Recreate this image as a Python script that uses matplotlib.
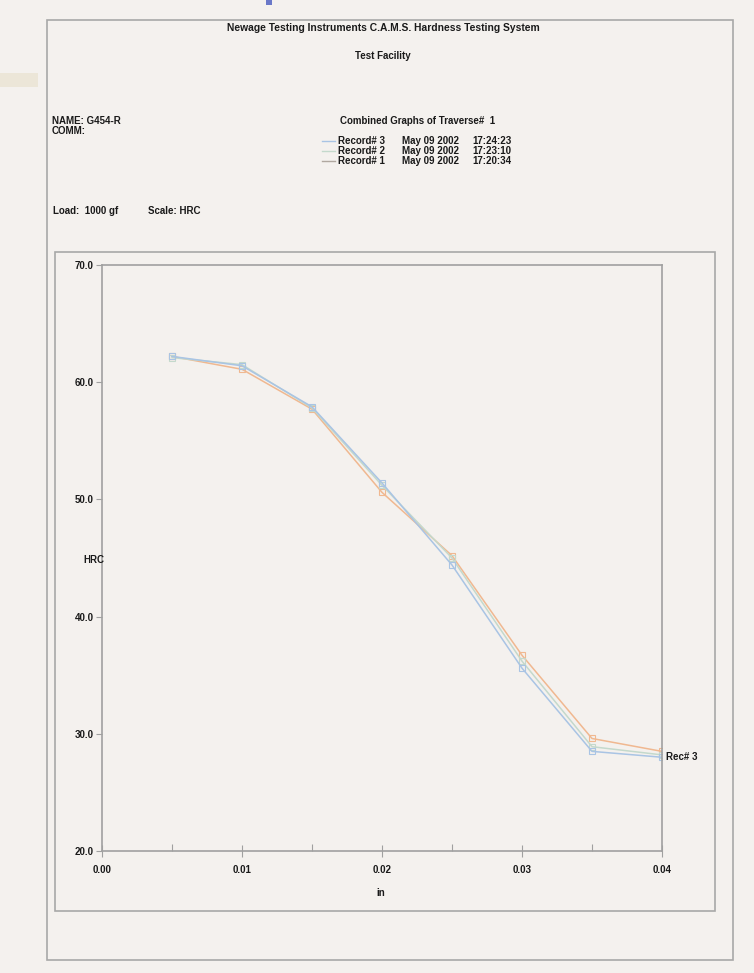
import matplotlib
matplotlib.use("Agg")
import matplotlib.pyplot as plt
from matplotlib.patches import Rectangle
from matplotlib.ticker import MultipleLocator, FormatStrFormatter
from matplotlib.lines import Line2D

# ---- data ----
depth_in = [0.005, 0.010, 0.015, 0.020, 0.025, 0.030, 0.035, 0.040]
rec3_hrc = [62.2, 61.4, 57.9, 51.4, 44.4, 35.6, 28.5, 28.0]
rec2_hrc = [62.1, 61.5, 57.8, 51.2, 45.0, 36.2, 28.9, 28.2]
rec1_hrc = [62.2, 61.1, 57.7, 50.6, 45.2, 36.7, 29.6, 28.5]
record_names = ["Record# 3", "Record# 2", "Record# 1"]
record_dates = ["May 09 2002", "May 09 2002", "May 09 2002"]
record_times = ["17:24:23", "17:23:10", "17:20:34"]
x_ticks = [0.00, 0.01, 0.02, 0.03, 0.04]
y_ticks = [20.0, 30.0, 40.0, 50.0, 60.0, 70.0]

W, H = 754, 973
BG = "#f4f1ee"
C3, C2, C1 = "#a9c4e4", "#c4d9cc", "#f0b890"

FONT = ["Liberation Sans Narrow", "Liberation Sans", "DejaVu Sans"]
plt.rcParams["font.family"] = FONT

fig = plt.figure(figsize=(W / 100, H / 100), dpi=100, facecolor=BG)


def fx(x):
    return x / W


def fy(y):
    return 1 - y / H


def txt(x, y, s, size=7, ha="left", weight="bold", **kw):
    fig.text(fx(x), fy(y), s, fontsize=size, ha=ha, va="center",
             fontweight=weight, color="#1a1a1a", **kw)


def box(x0, y0, x1, y1, lw=1.0, ec="#a8a8a8", fc="none", z=0):
    fig.add_artist(Rectangle((fx(x0), fy(y1)), fx(x1 - x0), (y1 - y0) / H,
                             transform=fig.transFigure, fill=fc != "none",
                             facecolor=fc, edgecolor=ec, lw=lw, zorder=z))


# decorative bits outside the page
box(0, 73, 38, 87, lw=0, ec="none", fc="#ece6d8")
box(266, 0, 272, 5, lw=0, ec="none", fc="#6a78c8")

# page and inner chart frames
box(47, 20, 733, 960, lw=1.2)
box(55, 252, 715, 911, lw=1.2)

# header texts
txt(383, 28, "Newage Testing Instruments C.A.M.S. Hardness Testing System", size=7.4, ha="center")
txt(383, 56, "Test Facility", ha="center")
txt(52, 121, "NAME: G454-R")
txt(52, 131, "COMM:")
txt(340, 121, "Combined Graphs of Traverse#  1")
for i, (n, d, t, c) in enumerate(zip(record_names, record_dates, record_times, [C3, C2, "#b0a8a0"])):
    yy = 141 + 10 * i
    fig.add_artist(Line2D([fx(322), fx(335)], [fy(yy), fy(yy)], transform=fig.transFigure,
                          color=c, lw=1))
    txt(338, yy, n)
    txt(402, yy, d)
    txt(472, yy, t)
txt(53, 211, "Load:  1000 gf")
txt(148, 211, "Scale: HRC")

# axes
ax = fig.add_axes([fx(102), fy(851), fx(662 - 102), (851 - 265) / H])
ax.set_facecolor(BG)
for s in ax.spines.values():
    s.set_color("#a0a0a0")
    s.set_linewidth(1.2)

mk = dict(marker="s", markersize=4, markerfacecolor="none", markeredgewidth=0.8)
ax.plot(depth_in, rec1_hrc, color=C1, lw=1.1, markeredgecolor=C1, **mk)
ax.plot(depth_in, rec2_hrc, color=C2, lw=1.1, markeredgecolor=C2, **mk)
ax.plot(depth_in, rec3_hrc, color=C3, lw=1.1, markeredgecolor=C3, **mk)

ax.set_xlim(0, 0.04)
ax.set_ylim(20, 70)
ax.set_xticks(x_ticks)
ax.set_yticks(y_ticks)
ax.xaxis.set_major_formatter(FormatStrFormatter("%.2f"))
ax.yaxis.set_major_formatter(FormatStrFormatter("%.1f"))
ax.xaxis.set_minor_locator(MultipleLocator(0.005))
ax.tick_params(axis="x", which="major", direction="inout", length=8, width=0.8,
               color="#a0a0a0", labelsize=7, pad=6)
ax.tick_params(axis="x", which="minor", direction="in", length=5, width=0.8, color="#a0a0a0")
ax.tick_params(axis="y", which="major", direction="out", length=4, width=0.8,
               color="#a0a0a0", labelsize=7, pad=2)
for lab in ax.get_xticklabels() + ax.get_yticklabels():
    lab.set_fontweight("bold")
    lab.set_color("#1a1a1a")

txt(83, 560, "HRC")
txt(381, 893, "in", ha="center")
ax.annotate("Rec# 3", xy=(depth_in[-1], rec3_hrc[-1]), xytext=(3, 0),
            textcoords="offset points", fontsize=7, fontweight="bold",
            va="center", ha="left", color="#1a1a1a", annotation_clip=False)

fig.savefig("out.png", dpi=100, facecolor=BG)
